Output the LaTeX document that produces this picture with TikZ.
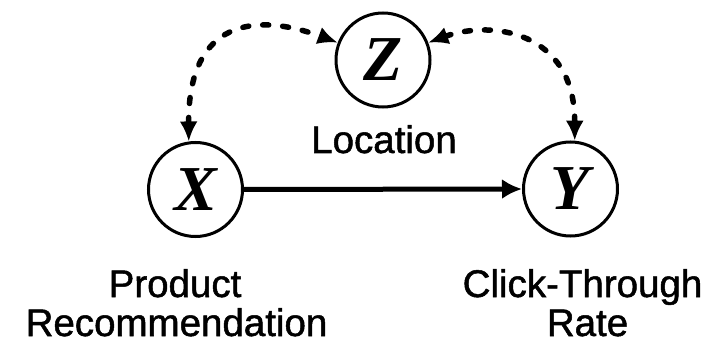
\documentclass[tikz,border=0pt]{standalone}
\usepackage{fontspec}
\setmainfont{Liberation Serif}
\newfontfamily\labelfont[FakeBold=1.3]{Liberation Sans}
\usetikzlibrary{arrows.meta}
\begin{document}
\begin{tikzpicture}[x=1pt,y=-1pt,
  var/.style={circle,draw,line width=3pt,minimum size=94pt,inner sep=0pt,font=\fontsize{64}{64}\selectfont\bfseries\itshape},
  lbl/.style={anchor=base,inner sep=0pt,text depth=0pt,font=\fontsize{38.5}{40}\selectfont\labelfont},
  causal/.style={line width=5pt,-{Latex[length=20pt,width=20pt]}},
  confound/.style={line width=5.5pt,line cap=round,dash pattern=on 6pt off 14pt,{Latex[length=20pt,width=18pt]}-{Latex[length=20pt,width=18pt]}}
]
\useasboundingbox[fill=white] (0,0) rectangle (718,342);
\node[var] (Z) at (383,60) {Z};
\node[var] (X) at (195.5,189.5) {X};
\node[var] (Y) at (570.5,189) {Y};
\node[lbl] (loc) at (384,153) {Location};
\node[lbl] (prod) at (175,297) {Product};
\node[lbl] (rec) at (176.5,336) {Recommendation};
\node[lbl] (click) at (582.5,297) {Click-Through};
\node[lbl] (rate) at (587.5,336) {Rate};
\draw[causal] (X.east) -- (Y.west);
\draw[confound] (X.98) .. controls (188,20) and (255,12) .. (Z.159);
\draw[confound] (Z.21) .. controls (490,20) and (575,30) .. (Y.85);
\end{tikzpicture}
\end{document}
